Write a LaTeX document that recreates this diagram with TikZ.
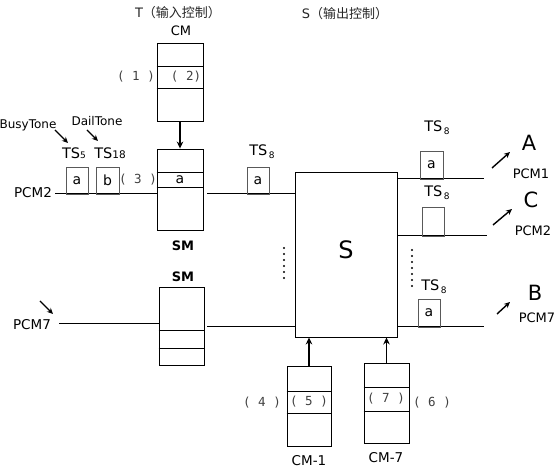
\documentclass[tikz,border=0pt]{standalone}
\usepackage{fontspec}
\setmainfont{DejaVu Sans}
\newfontfamily\cjk{Noto Sans CJK SC}
\newfontfamily\monof{DejaVu Sans Mono}
\usetikzlibrary{arrows.meta}
\begin{document}
\begin{tikzpicture}[x=1pt,y=-1pt,
  mem/.style={draw, line width=0.9pt, inner sep=0pt, minimum width=#1},
  mem/.default=46pt,
  slot/.style={draw=black!65, line width=0.8pt, inner sep=0pt, minimum width=22pt, minimum height=27pt, font=\fontsize{14}{14}\selectfont},
  wire/.style={line width=1pt},
  bigarrow/.style={line width=1.6pt, -{Stealth[length=7pt,width=6.5pt]}},
  smallarrow/.style={line width=1.4pt, -{Stealth[length=6pt,width=5.5pt]}},
  lbl/.style={inner sep=0pt, font=\fontsize{13}{13}\selectfont},
  tsl/.style={inner sep=0pt, font=\fontsize{14.5}{14.5}\selectfont},
  num/.style={inner sep=0pt, text=black!75, font=\monof\fontsize{12.5}{12.5}\selectfont},
  big/.style={inner sep=0pt, font=\fontsize{21}{21}\selectfont}
]
\useasboundingbox (0,0) rectangle (557,470);

% headers
\node[lbl, text=black!85] (thead) at (178,13) {T{\cjk （输入控制）}};
\node[lbl, text=black!85] (shead) at (345,14) {S{\cjk （输出控制）}};

% CM
\node[lbl] (cmlbl) at (181,31) {CM};
\node[mem, minimum height=78pt] (cm) at (180,82) {};
\draw[line width=0.9pt] (cm.west |- 0,66) -- (cm.east |- 0,66);
\draw[line width=0.9pt] (cm.west |- 0,88) -- (cm.east |- 0,88);
\node[num] (n1) at (136,77) {( 1 )};
\node[num] (n2) at (186,77) {( 2)};

% SM1
\node[mem, minimum height=81pt] (sm1) at (180,189.5) {};
\draw[line width=0.9pt] (sm1.west |- 0,172) -- (sm1.east |- 0,172);
\draw[line width=0.9pt] (sm1.west |- 0,187) -- (sm1.east |- 0,187);
\node[inner sep=0pt, font=\fontsize{14}{14}\selectfont] (sma) at (180,180) {a};
\node[lbl, font=\bfseries\fontsize{13}{13}\selectfont] (sm1lbl) at (183,246) {SM};
\draw[bigarrow] (cm.south) -- (sm1.north);

% SM2
\node[mem=45pt, minimum height=78pt] (sm2) at (181.5,326) {};
\draw[line width=0.9pt] (sm2.west |- 0,330) -- (sm2.east |- 0,330);
\draw[line width=0.9pt] (sm2.west |- 0,348) -- (sm2.east |- 0,348);
\node[lbl, font=\bfseries\fontsize{13}{13}\selectfont] (sm2lbl) at (183,277) {SM};

% S switch
\node[mem=102pt, minimum height=165pt] (s) at (346,254.5) {};
\node[inner sep=0pt, font=\fontsize{24}{24}\selectfont] (slbl) at (346,250) {S};

% PCM2 input
\node[lbl, font=\fontsize{13.5}{13.5}\selectfont] (pcm2in) at (33,193) {PCM2};
\coordinate (p2l) at (55,194);
\draw[wire] (p2l) -- (p2l -| sm1.west);
\node[slot] (ta) at (77,180.5) {a};
\node[slot, minimum width=23pt] (tb) at (107.5,180.5) {b};
\node[tsl] (ts5) at (74,153) {TS\raisebox{-0.5pt}{\fontsize{9}{9}\selectfont 5}};
\node[tsl] (ts18) at (110,153) {TS\raisebox{-0.5pt}{\fontsize{10.5}{10.5}\selectfont 18}};
\node[num] (n3) at (138,180) {( 3 )};
\node[lbl, font=\fontsize{12}{12}\selectfont] (busy) at (28,125) {BusyTone};
\node[lbl, font=\fontsize{12}{12}\selectfont] (dail) at (97,121) {DailTone};
\coordinate (ba1) at (55,130); \coordinate (ba2) at (68,143);
\coordinate (da1) at (87,130); \coordinate (da2) at (98,141);
\draw[smallarrow] (ba1) -- (ba2);
\draw[smallarrow] (da1) -- (da2);

% SM1 -> S
\coordinate (sm1o) at (207,194);
\draw[wire] (sm1o) -- (sm1o -| s.west);
\node[slot] (ma) at (258,180.5) {a};
\node[tsl] (ts8m) at (262,152) {TS\raisebox{-3pt}{\fontsize{9}{9}\selectfont\,8}};

% PCM7 input
\node[lbl, font=\fontsize{13.5}{13.5}\selectfont] (pcm7in) at (32,325) {PCM7};
\coordinate (p7l) at (59,324);
\draw[wire] (p7l) -- (p7l -| sm2.west);
\coordinate (pa1) at (40,301); \coordinate (pa2) at (53,314);
\draw[smallarrow] (pa1) -- (pa2);
\coordinate (sm2o) at (207,327);
\draw[wire] (sm2o) -- (sm2o -| s.west);

% dots
\foreach \yy in {248,254,260,266,272,278} \fill (284,\yy) circle (1.1pt);
\foreach \yy in {250,256,262,268,274,280,286} \fill (412,\yy) circle (1.1pt);

% outputs
\coordinate (o1) at (484,179);
\draw[wire] (s.east |- o1) -- (o1);
\node[slot, minimum width=23pt, minimum height=28pt] (oa) at (431.5,165) {a};
\node[tsl] (ts8a) at (437,128) {TS\raisebox{-3pt}{\fontsize{9}{9}\selectfont\,8}};
\coordinate (oa1) at (492,168); \coordinate (oa2) at (510,152);
\draw[smallarrow] (oa1) -- (oa2);
\node[big] (A) at (529,143) {A};
\node[lbl] (pcm1) at (531,174) {PCM1};

\coordinate (o2) at (487,236);
\draw[wire] (s.east |- o2) -- (o2);
\node[slot, minimum height=29pt] (oc) at (433,221.5) {};
\node[tsl] (ts8c) at (437,193) {TS\raisebox{-3pt}{\fontsize{9}{9}\selectfont\,8}};
\coordinate (oc1) at (493,225); \coordinate (oc2) at (512,209);
\draw[smallarrow] (oc1) -- (oc2);
\node[big] (C) at (531,200) {C};
\node[lbl] (pcm2out) at (533,231) {PCM2};

\coordinate (o3) at (484,327);
\draw[wire] (s.east |- o3) -- (o3);
\node[slot, minimum height=28pt] (ob) at (429,313) {a};
\node[tsl] (ts8b) at (434,287) {TS\raisebox{-3pt}{\fontsize{9}{9}\selectfont\,8}};
\coordinate (ob1) at (497,314); \coordinate (ob2) at (510,302);
\draw[smallarrow] (ob1) -- (ob2);
\node[big] (B) at (535,293) {B};
\node[lbl] (pcm7out) at (537,318) {PCM7};

% CM-1
\node[mem=44pt, minimum height=80pt] (cm1) at (309,406) {};
\draw[line width=0.9pt] (cm1.west |- 0,391) -- (cm1.east |- 0,391);
\draw[line width=0.9pt] (cm1.west |- 0,413) -- (cm1.east |- 0,413);
\node[num] (n5) at (309,402) {( 5 )};
\node[num] (n4) at (262,403) {( 4 )};
\node[lbl, font=\fontsize{13.5}{13.5}\selectfont] (cm1lbl) at (309,461) {CM-1};
\draw[bigarrow] (cm1.north) -- (cm1.north |- s.south);

% CM-7
\node[mem=45pt, minimum height=80pt] (cm7) at (386.5,403) {};
\draw[line width=0.9pt] (cm7.west |- 0,387) -- (cm7.east |- 0,387);
\draw[line width=0.9pt] (cm7.west |- 0,411) -- (cm7.east |- 0,411);
\node[num] (n7) at (386,399) {( 7 )};
\node[num] (n6) at (432,403) {( 6 )};
\node[lbl, font=\fontsize{13.5}{13.5}\selectfont] (cm7lbl) at (386,458) {CM-7};
\draw[bigarrow] (cm7.north) -- (cm7.north |- s.south);
\end{tikzpicture}
\end{document}
